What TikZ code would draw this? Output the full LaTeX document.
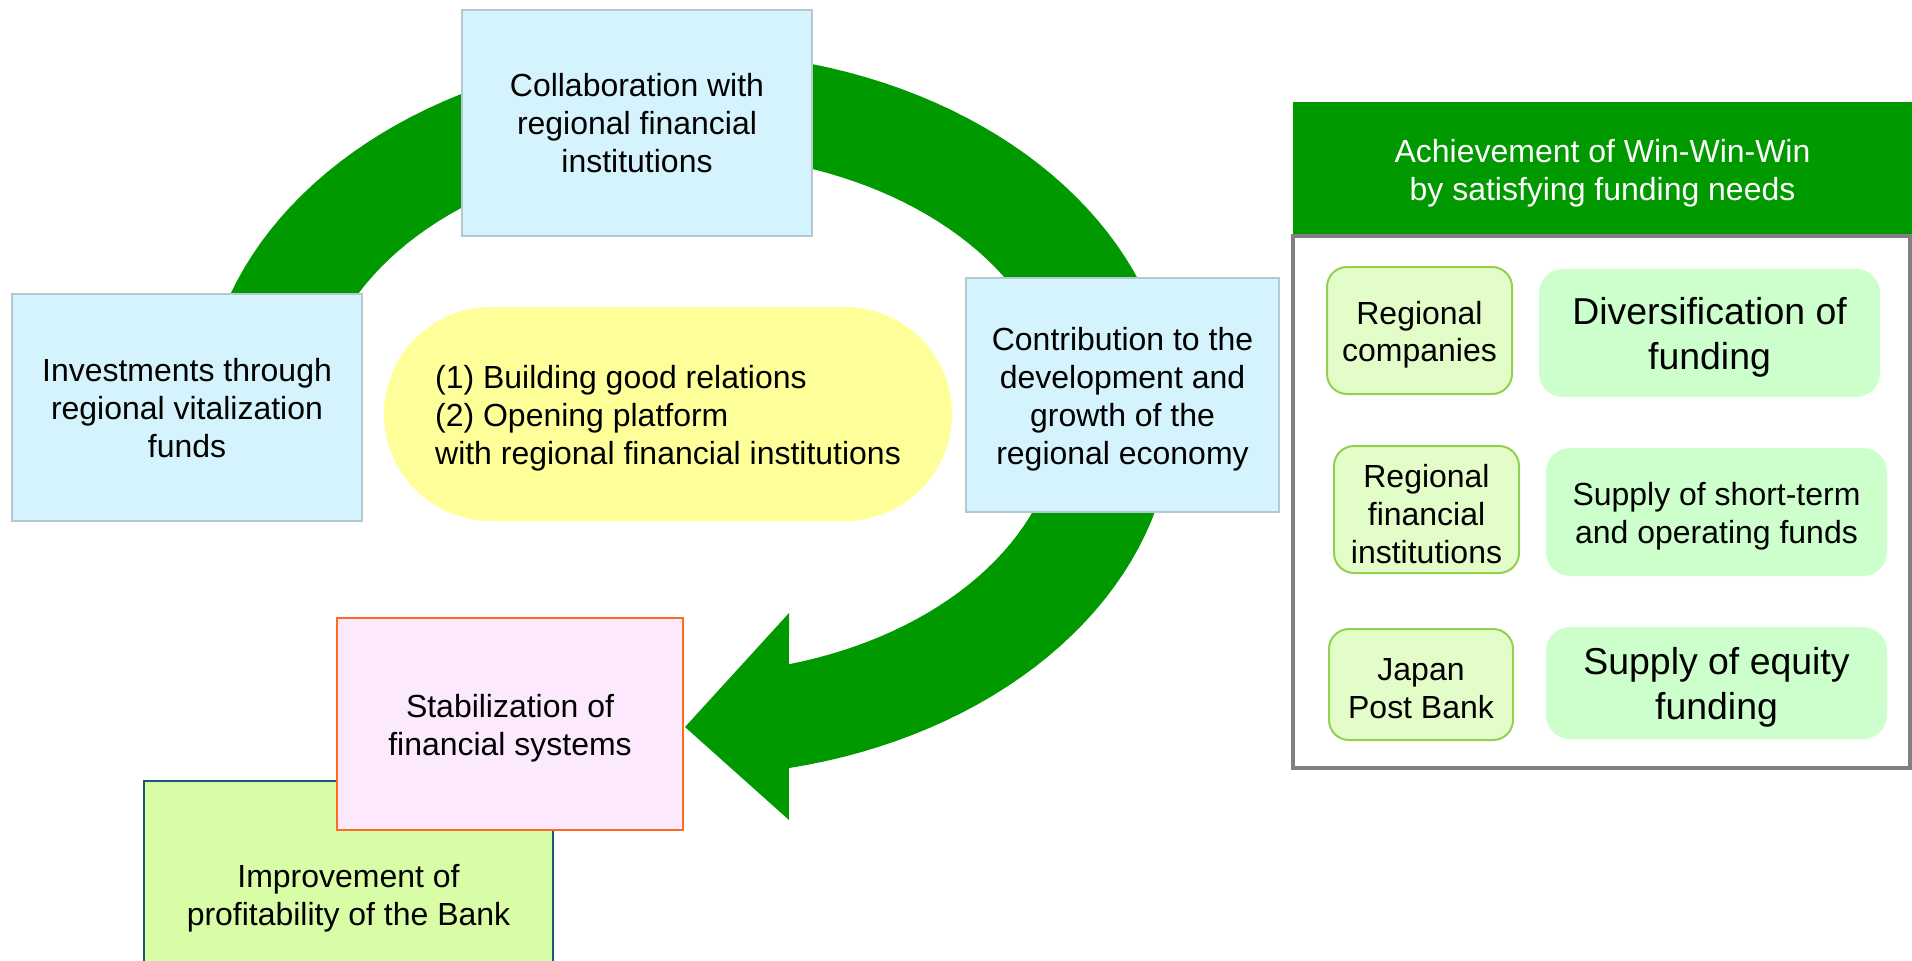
\documentclass[tikz,border=0pt]{standalone}
\usepackage{fontspec}
\setmainfont{Liberation Sans}
\newdimen\upx \upx=0.02cm
\definecolor{ringgreen}{HTML}{009900}
\definecolor{boxblue}{HTML}{D5F3FD}
\definecolor{boxblueline}{HTML}{B4C8D2}
\definecolor{yellowfill}{HTML}{FFFF99}
\definecolor{pinkfill}{HTML}{FDE9FD}
\definecolor{orangeline}{HTML}{FF6A1F}
\definecolor{limefill}{HTML}{D9FCA6}
\definecolor{tealline}{HTML}{1A5876}
\definecolor{paleleft}{HTML}{E3FDC9}
\definecolor{paleleftline}{HTML}{92D050}
\definecolor{palegreen}{HTML}{CCFFCC}
\definecolor{panelgray}{HTML}{808080}
\begin{document}
\begin{tikzpicture}[x=0.02cm, y=-0.02cm,
  basetxt/.style={font=\fontsize{18.2}{21.6}\selectfont, align=center, inner sep=0pt, text=black},
  txt/.style={basetxt, yshift=-2.4pt},
  bigtxt/.style={font=\fontsize{21.3}{25.6}\selectfont, align=center, inner sep=0pt, text=black, yshift=-2.6pt},
  sz/.style 2 args={minimum width=#1\upx, minimum height=#2\upx, inner sep=0pt},
  bluebox/.style={draw=boxblueline, fill=boxblue, line width=2\upx},
  leftpill/.style={draw=paleleftline, fill=paleleft, line width=2\upx, rounded corners=20\upx},
  rightpill/.style={fill=palegreen, rounded corners=24\upx},
]
\useasboundingbox (0,0) rectangle (1912,960);
\clip (0,0) rectangle (1912,960);

% big curved arrow (elliptical band ending in an arrowhead)
\fill[ringgreen]
  plot[domain=170:438, samples=120, variable=\t] ({688+485*cos(\t)}, {414+362*sin(\t)})
  -- (789,820) -- (685,727) -- (789,613)
  -- plot[domain=434.25:170, samples=120, variable=\t] ({688+372*cos(\t)}, {414+260*sin(\t)})
  -- cycle;

% cycle boxes
\node[bluebox, sz={350}{226}] (collab) at (637,123) {};
\node[basetxt] (collabtext) at (collab.center) {Collaboration with\\regional financial\\institutions};
\node[bluebox, sz={350}{227}] (invest) at (187,407.5) {};
\node[basetxt, yshift=-0.5pt] (investtext) at (invest.center) {Investments through\\regional vitalization\\funds};
\node[bluebox, sz={313}{234}] (contrib) at (1122.5,395) {};
\node[txt] (contribtext) at (contrib.center) {Contribution to the\\development and\\growth of the\\regional economy};
\node[sz={568}{214}, fill=yellowfill, rounded corners=107\upx] (focus) at (668,414) {};
\node[txt, align=left] (focustext) at (focus.center) {(1) Building good relations\\(2) Opening platform\\with regional financial institutions};

\node[sz={409}{226}, fill=limefill, draw=tealline, line width=2\upx] (profit) at (348.5,894) {};
\node[txt] (profittext) at (profit.center) {Improvement of\\profitability of the Bank};
\node[sz={346}{212}, fill=pinkfill, draw=orangeline, line width=2\upx] (stabil) at (510,724) {};
\node[txt] (stabiltext) at (stabil.center) {Stabilization of\\financial systems};

% right panel
\node[sz={619}{134}, fill=ringgreen] (header) at (1602.5,169) {};
\node[txt, text=white] (headertext) at (header.center) {Achievement of Win-Win-Win\\by satisfying funding needs};
\node[draw=panelgray, line width=4\upx, sz={617}{532}] (panel) at (1601.5,502) {};

\node[leftpill, sz={185}{127}] (regco) at (1419.5,330.5) {};
\node[txt] (regcotext) at (regco.center) {Regional\\companies};
\node[leftpill, sz={185}{127}] (regfi) at (1426.5,509.5) {};
\node[txt] (regfitext) at (regfi.center) {Regional\\financial\\institutions};
\node[leftpill, sz={184}{111}] (jpb) at (1421,684.5) {};
\node[txt] (jpbtext) at (jpb.center) {Japan\\Post Bank};

\node[rightpill, sz={341}{128}] (divers) at (1709.5,333) {};
\node[bigtxt] (diverstext) at (divers.center) {Diversification of\\funding};
\node[rightpill, sz={341}{128}] (short) at (1716.5,512) {};
\node[txt] (shorttext) at (short.center) {Supply of short-term\\and operating funds};
\node[rightpill, sz={341}{112}] (equity) at (1716.5,683) {};
\node[bigtxt] (equitytext) at (equity.center) {Supply of equity\\funding};
\end{tikzpicture}
\end{document}
